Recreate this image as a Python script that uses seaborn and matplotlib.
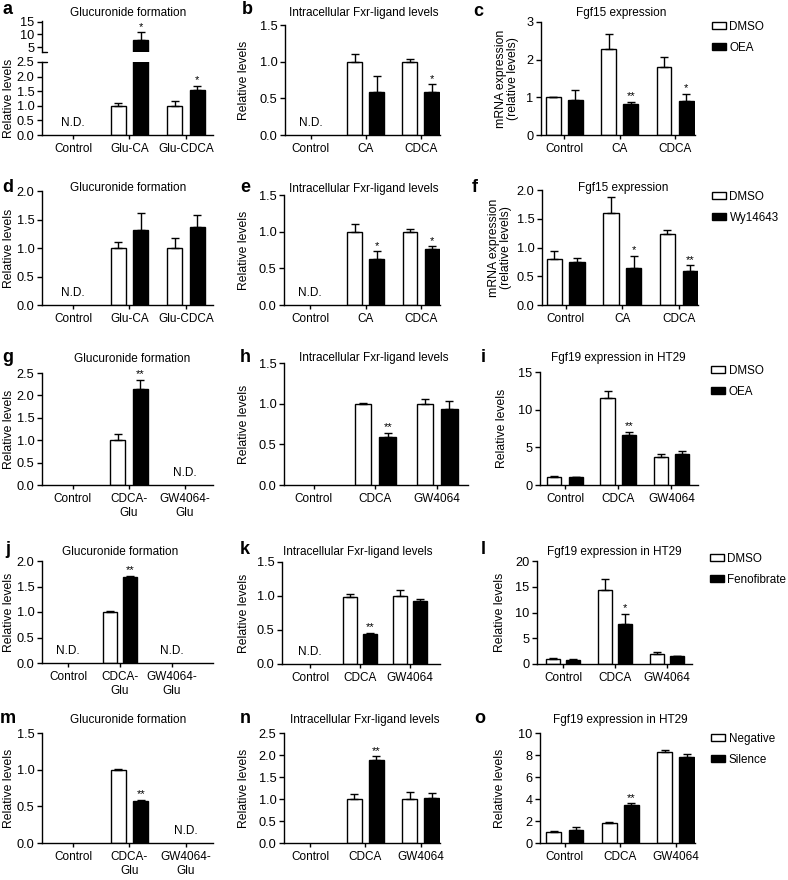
import numpy as np
import pandas as pd
import matplotlib
matplotlib.use("Agg")
import matplotlib.pyplot as plt
import seaborn as sns
from matplotlib.patches import Patch
from matplotlib.ticker import FormatStrFormatter

nan = np.nan

# category names
groups_glu = ["Control", "Glu-CA", "Glu-CDCA"]
groups_fxr = ["Control", "CA", "CDCA"]
groups_glu2 = ["Control", "CDCA-\nGlu", "GW4064-\nGlu"]
groups_gw = ["Control", "CDCA", "GW4064"]

# treatments (white bar, black bar)
treat_oea = ["DMSO", "OEA"]
treat_wy = ["DMSO", "Wy14643"]
treat_feno = ["DMSO", "Fenofibrate"]
treat_si = ["Negative", "Silence"]

# panel a
a_ctrl = [nan, 1.00, 1.00]
a_ctrl_err = [nan, 0.10, 0.17]
a_trt = [nan, 7.7, 1.55]
a_trt_err = [nan, 3.1, 0.12]
a_stars = ["", "*", "*"]
a_nd = ["N.D.", "", ""]
# panel b
b_ctrl = [nan, 1.00, 1.00]
b_ctrl_err = [nan, 0.10, 0.03]
b_trt = [nan, 0.58, 0.58]
b_trt_err = [nan, 0.22, 0.11]
b_stars = ["", "", "*"]
b_nd = ["N.D.", "", ""]
# panel c
c_ctrl = [1.00, 2.29, 1.80]
c_ctrl_err = [0.01, 0.38, 0.26]
c_trt = [0.93, 0.81, 0.91]
c_trt_err = [0.26, 0.07, 0.19]
c_stars = ["", "**", "*"]
c_nd = ["", "", ""]
# panel d
d_ctrl = [nan, 1.00, 1.00]
d_ctrl_err = [nan, 0.11, 0.17]
d_trt = [nan, 1.31, 1.37]
d_trt_err = [nan, 0.31, 0.21]
d_stars = ["", "", ""]
d_nd = ["N.D.", "", ""]
# panel e
e_ctrl = [nan, 1.00, 1.00]
e_ctrl_err = [nan, 0.10, 0.03]
e_trt = [nan, 0.63, 0.77]
e_trt_err = [nan, 0.10, 0.03]
e_stars = ["", "*", "*"]
e_nd = ["N.D.", "", ""]
# panel f
f_ctrl = [0.80, 1.60, 1.23]
f_ctrl_err = [0.14, 0.28, 0.08]
f_trt = [0.75, 0.64, 0.60]
f_trt_err = [0.07, 0.21, 0.09]
f_stars = ["", "*", "**"]
f_nd = ["", "", ""]
# panel g
g_ctrl = [nan, 1.00, nan]
g_ctrl_err = [nan, 0.13, nan]
g_trt = [nan, 2.14, nan]
g_trt_err = [nan, 0.20, nan]
g_stars = ["", "**", ""]
g_nd = ["", "", "N.D."]
# panel h
h_ctrl = [nan, 1.00, 1.00]
h_ctrl_err = [nan, 0.01, 0.06]
h_trt = [nan, 0.59, 0.94]
h_trt_err = [nan, 0.05, 0.09]
h_stars = ["", "**", ""]
h_nd = ["", "", ""]
# panel i
i_ctrl = [1.10, 11.5, 3.75]
i_ctrl_err = [0.10, 1.0, 0.35]
i_trt = [1.00, 6.7, 4.10]
i_trt_err = [0.05, 0.3, 0.40]
i_stars = ["", "**", ""]
i_nd = ["", "", ""]
# panel j
j_ctrl = [nan, 1.00, nan]
j_ctrl_err = [nan, 0.01, nan]
j_trt = [nan, 1.68, nan]
j_trt_err = [nan, 0.03, nan]
j_stars = ["", "**", ""]
j_nd = ["N.D.", "", "N.D."]
# panel k
k_ctrl = [nan, 0.98, 1.00]
k_ctrl_err = [nan, 0.05, 0.09]
k_trt = [nan, 0.44, 0.93]
k_trt_err = [nan, 0.02, 0.03]
k_stars = ["", "**", ""]
k_nd = ["N.D.", "", ""]
# panel l
l_ctrl = [1.03, 14.45, 1.90]
l_ctrl_err = [0.13, 2.0, 0.50]
l_trt = [0.84, 7.7, 1.50]
l_trt_err = [0.05, 2.0, 0.05]
l_stars = ["", "*", ""]
l_nd = ["", "", ""]
# panel m
m_ctrl = [nan, 1.00, nan]
m_ctrl_err = [nan, 0.01, nan]
m_trt = [nan, 0.57, nan]
m_trt_err = [nan, 0.02, nan]
m_stars = ["", "**", ""]
m_nd = ["", "", "N.D."]
# panel n
n_ctrl = [nan, 1.00, 1.00]
n_ctrl_err = [nan, 0.11, 0.17]
n_trt = [nan, 1.88, 1.02]
n_trt_err = [nan, 0.09, 0.12]
n_stars = ["", "**", ""]
n_nd = ["", "", ""]
# panel o
o_ctrl = [1.00, 1.80, 8.30]
o_ctrl_err = [0.05, 0.10, 0.15]
o_trt = [1.15, 3.45, 7.85]
o_trt_err = [0.30, 0.15, 0.20]
o_stars = ["", "**", ""]
o_nd = ["", "", ""]

title_glu = "Glucuronide formation"
title_fxr = "Intracellular Fxr-ligand levels"
title_fgf15 = "Fgf15 expression"
title_fgf19 = "Fgf19 expression in HT29"
ylab_rel = "Relative levels"
ylab_mrna = "mRNA expression\n(relative levels)"

yt_05_15 = [0, 0.5, 1.0, 1.5]
yt_05_20 = [0, 0.5, 1.0, 1.5, 2.0]
yt_05_25 = [0, 0.5, 1.0, 1.5, 2.0, 2.5]

panels = {
    "a": dict(groups=groups_glu, treat=treat_oea, ctrl=a_ctrl, ctrl_err=a_ctrl_err, trt=a_trt, trt_err=a_trt_err,
              stars=a_stars, nd=a_nd, title=title_glu, ylab=ylab_rel, yticks=yt_05_25, fmt="%.1f"),
    "b": dict(groups=groups_fxr, treat=treat_oea, ctrl=b_ctrl, ctrl_err=b_ctrl_err, trt=b_trt, trt_err=b_trt_err,
              stars=b_stars, nd=b_nd, title=title_fxr, ylab=ylab_rel, yticks=yt_05_15, fmt="%.1f"),
    "c": dict(groups=groups_fxr, treat=treat_oea, ctrl=c_ctrl, ctrl_err=c_ctrl_err, trt=c_trt, trt_err=c_trt_err,
              stars=c_stars, nd=c_nd, title=title_fgf15, ylab=ylab_mrna, yticks=[0, 1, 2, 3], fmt="%d"),
    "d": dict(groups=groups_glu, treat=treat_wy, ctrl=d_ctrl, ctrl_err=d_ctrl_err, trt=d_trt, trt_err=d_trt_err,
              stars=d_stars, nd=d_nd, title=title_glu, ylab=ylab_rel, yticks=yt_05_20, fmt="%.1f"),
    "e": dict(groups=groups_fxr, treat=treat_wy, ctrl=e_ctrl, ctrl_err=e_ctrl_err, trt=e_trt, trt_err=e_trt_err,
              stars=e_stars, nd=e_nd, title=title_fxr, ylab=ylab_rel, yticks=yt_05_15, fmt="%.1f"),
    "f": dict(groups=groups_fxr, treat=treat_wy, ctrl=f_ctrl, ctrl_err=f_ctrl_err, trt=f_trt, trt_err=f_trt_err,
              stars=f_stars, nd=f_nd, title=title_fgf15, ylab=ylab_mrna, yticks=yt_05_20, fmt="%.1f"),
    "g": dict(groups=groups_glu2, treat=treat_oea, ctrl=g_ctrl, ctrl_err=g_ctrl_err, trt=g_trt, trt_err=g_trt_err,
              stars=g_stars, nd=g_nd, title=title_glu, ylab=ylab_rel, yticks=yt_05_25, fmt="%.1f"),
    "h": dict(groups=groups_gw, treat=treat_oea, ctrl=h_ctrl, ctrl_err=h_ctrl_err, trt=h_trt, trt_err=h_trt_err,
              stars=h_stars, nd=h_nd, title=title_fxr, ylab=ylab_rel, yticks=yt_05_15, fmt="%.1f"),
    "i": dict(groups=groups_gw, treat=treat_oea, ctrl=i_ctrl, ctrl_err=i_ctrl_err, trt=i_trt, trt_err=i_trt_err,
              stars=i_stars, nd=i_nd, title=title_fgf19, ylab=ylab_rel, yticks=[0, 5, 10, 15], fmt="%d"),
    "j": dict(groups=groups_glu2, treat=treat_feno, ctrl=j_ctrl, ctrl_err=j_ctrl_err, trt=j_trt, trt_err=j_trt_err,
              stars=j_stars, nd=j_nd, title=title_glu, ylab=ylab_rel, yticks=yt_05_20, fmt="%.1f"),
    "k": dict(groups=groups_gw, treat=treat_feno, ctrl=k_ctrl, ctrl_err=k_ctrl_err, trt=k_trt, trt_err=k_trt_err,
              stars=k_stars, nd=k_nd, title=title_fxr, ylab=ylab_rel, yticks=yt_05_15, fmt="%.1f"),
    "l": dict(groups=groups_gw, treat=treat_feno, ctrl=l_ctrl, ctrl_err=l_ctrl_err, trt=l_trt, trt_err=l_trt_err,
              stars=l_stars, nd=l_nd, title=title_fgf19, ylab=ylab_rel, yticks=[0, 5, 10, 15, 20], fmt="%d"),
    "m": dict(groups=groups_glu2, treat=treat_si, ctrl=m_ctrl, ctrl_err=m_ctrl_err, trt=m_trt, trt_err=m_trt_err,
              stars=m_stars, nd=m_nd, title=title_glu, ylab=ylab_rel, yticks=yt_05_15, fmt="%.1f"),
    "n": dict(groups=groups_gw, treat=treat_si, ctrl=n_ctrl, ctrl_err=n_ctrl_err, trt=n_trt, trt_err=n_trt_err,
              stars=n_stars, nd=n_nd, title=title_fxr, ylab=ylab_rel, yticks=yt_05_25, fmt="%.1f"),
    "o": dict(groups=groups_gw, treat=treat_si, ctrl=o_ctrl, ctrl_err=o_ctrl_err, trt=o_trt, trt_err=o_trt_err,
              stars=o_stars, nd=o_nd, title=title_fgf19, ylab=ylab_rel, yticks=[0, 2, 4, 6, 8, 10], fmt="%d"),
}

# layout in pixels: axes box (left, top, right, bottom), xlim, title centre, letter centre, ylabel right edge, legend corner
layout = {
    "a": dict(box=(42, 62, 213, 135), xlim=(-0.55, 2.48), title=(128, 13), letter=(8, 10), ylx=15),
    "b": dict(box=(285, 25, 440, 135), xlim=(-0.47, 2.35), title=(364, 13), letter=(247, 10), ylx=250),
    "c": dict(box=(541, 22, 695, 135), xlim=(-0.42, 2.36), title=(621, 13), letter=(478, 12), ylx=519, leg=(712, 21)),
    "d": dict(box=(42, 191, 213, 305), xlim=(-0.55, 2.48), title=(128, 188), letter=(8, 187), ylx=15),
    "e": dict(box=(284, 195, 440, 305), xlim=(-0.47, 2.34), title=(364, 189), letter=(245, 187), ylx=250),
    "f": dict(box=(542, 190, 698, 305), xlim=(-0.42, 2.34), title=(623, 188), letter=(475, 187), ylx=512, leg=(712, 191)),
    "g": dict(box=(42, 373, 213, 485), xlim=(-0.55, 2.5), title=(132, 359), letter=(8, 358), ylx=15),
    "h": dict(box=(284, 363, 468, 485), xlim=(-0.48, 2.5), title=(374, 358), letter=(245, 358), ylx=250),
    "i": dict(box=(540, 372, 698, 485), xlim=(-0.47, 2.5), title=(618, 358), letter=(483, 357), ylx=508, leg=(711, 365)),
    "j": dict(box=(42, 561, 213, 663), xlim=(-0.5, 2.79), title=(120, 552), letter=(8, 550), ylx=15),
    "k": dict(box=(282, 562, 440, 664), xlim=(-0.56, 2.6), title=(358, 552), letter=(245, 550), ylx=250),
    "l": dict(box=(537, 561, 692, 664), xlim=(-0.5, 2.48), title=(614, 552), letter=(483, 550), ylx=506, leg=(710, 553)),
    "m": dict(box=(42, 733, 213, 843), xlim=(-0.55, 2.48), title=(128, 720), letter=(8, 718), ylx=15),
    "n": dict(box=(284, 733, 440, 843), xlim=(-0.47, 2.35), title=(365, 720), letter=(245, 718), ylx=250),
    "o": dict(box=(540, 733, 695, 843), xlim=(-0.45, 2.35), title=(620, 720), letter=(480, 718), ylx=506, leg=(711, 733)),
}

W, H = 788, 880
sns.set_style("ticks")
plt.rcParams["font.family"] = ["Liberation Sans", "DejaVu Sans"]
plt.rcParams.update({"text.color": "black", "axes.labelcolor": "black", "xtick.color": "black",
                     "ytick.color": "black", "axes.edgecolor": "black", "axes.linewidth": 1.0})

fig = plt.figure(figsize=(W / 100, H / 100), dpi=100)


def px_rect(box):
    l, t, r, b = box
    return [l / W, 1 - b / H, (r - l) / W, (b - t) / H]


def draw_bars(ax, p, show_nd=True):
    n = len(p["groups"])
    df = pd.DataFrame({
        "group": p["groups"] * 2,
        "treat": [p["treat"][0]] * n + [p["treat"][1]] * n,
        "value": p["ctrl"] + p["trt"],
    }).dropna()
    sns.barplot(data=df, x="group", y="value", hue="treat", order=p["groups"], hue_order=p["treat"],
                palette=["white", "black"], edgecolor="black", linewidth=1.0, width=0.8, gap=0.33,
                errorbar=None, legend=False, ax=ax)
    x = np.arange(n)
    for off, vals, errs in [(-0.2, p["ctrl"], p["ctrl_err"]), (0.2, p["trt"], p["trt_err"])]:
        vals = np.array(vals, float)
        errs = np.array(errs, float)
        ok = ~np.isnan(vals)
        ax.errorbar(x[ok] + off, vals[ok], yerr=[np.zeros(ok.sum()), errs[ok]], fmt="none",
                    ecolor="black", elinewidth=1.0, capsize=3, capthick=1.0)
    for i, s in enumerate(p["stars"]):
        if s:
            ax.annotate(s, (x[i] + 0.2, p["trt"][i] + p["trt_err"][i]), xytext=(0, 0.5),
                        textcoords="offset points", ha="center", va="bottom", fontsize=8,
                        annotation_clip=True)
    if show_nd:
        for i, s in enumerate(p["nd"]):
            if s:
                ax.annotate(s, (x[i], 0), xytext=(0, 4.5), textcoords="offset points",
                            ha="center", va="bottom", fontsize=8.5)


def style_axes(ax, p, lay):
    sns.despine(ax=ax)
    ax.set_xlim(*lay["xlim"])
    ax.set_xlabel("")
    ax.tick_params(axis="both", direction="out", length=3.5, width=1.0, pad=2)
    ax.tick_params(axis="y", labelsize=9.2)
    ax.tick_params(axis="x", labelsize=8.5, length=3, pad=3)
    ax.yaxis.set_major_formatter(FormatStrFormatter(p["fmt"]))


for key, p in panels.items():
    lay = layout[key]
    ax = fig.add_axes(px_rect(lay["box"]))
    draw_bars(ax, p)
    style_axes(ax, p, lay)
    ax.set_ylim(p["yticks"][0], p["yticks"][-1])
    ax.set_yticks(p["yticks"])
    l, t, r, b = lay["box"]
    ax.set_ylabel(p["ylab"], fontsize=8.8, linespacing=1.05)
    ax.yaxis.set_label_coords((lay["ylx"] - l) / (r - l), 0.5)
    fig.text(lay["title"][0] / W, 1 - lay["title"][1] / H, p["title"], ha="center", va="center", fontsize=8.5)
    fig.text(lay["letter"][0] / W, 1 - lay["letter"][1] / H, key, ha="center", va="center",
             fontsize=13, fontweight="bold")

    if "leg" in lay:
        handles = [Patch(facecolor="white", edgecolor="black", linewidth=1.0),
                   Patch(facecolor="black", edgecolor="black", linewidth=1.0)]
        lx = (lay["leg"][0] - l) / (r - l)
        ly = (b - lay["leg"][1]) / (b - t)
        ax.legend(handles, p["treat"], loc="upper left", bbox_to_anchor=(lx, ly), frameon=False,
                  fontsize=8.4, handlelength=1.2, handleheight=0.55, handletextpad=0.3,
                  labelspacing=0.75, borderpad=0, borderaxespad=0)

    if key == "a":
        # broken axis: upper part for the large value
        ax.plot([0, 0.03], [1, 1], transform=ax.transAxes, color="black", lw=1.0, clip_on=False)
        axu = fig.add_axes(px_rect((42, 21, 213, 52)))
        draw_bars(axu, p, show_nd=False)
        style_axes(axu, p, lay)
        axu.set_ylim(3, 15.4)
        axu.set_yticks([5, 10, 15])
        axu.yaxis.set_major_formatter(FormatStrFormatter("%d"))
        axu.spines["bottom"].set_visible(False)
        axu.tick_params(axis="x", bottom=False, labelbottom=False)
        axu.set_ylabel("")
        axu.plot([0, 0.03], [0, 0], transform=axu.transAxes, color="black", lw=1.0, clip_on=False)

fig.savefig("out.png", dpi=100)
